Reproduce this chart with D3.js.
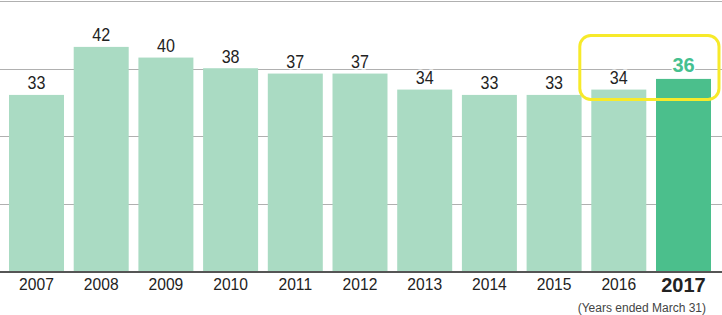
<!DOCTYPE html>
<html><head><meta charset="utf-8">
<script src="https://cdn.jsdelivr.net/npm/d3@7"></script>
<style>
html,body{margin:0;padding:0;background:#fff;}
svg{display:block;}
text{font-family:"Liberation Sans",Arial,Helvetica,sans-serif;}
</style></head>
<body><svg id="c" width="722" height="315"></svg>
<script>
const years = ["2007","2008","2009","2010","2011","2012","2013","2014","2015","2016","2017"];
const values = [33,42,40,38,37,37,34,33,33,34,36];
const highlightYear = "2017";
const gridFractions = [0.25,0.5,0.75,1];
const note = "(Years ended March 31)";

const W = 722, H = 315;
const svg = d3.select("#c");
const yMax = 50.6;
const x = d3.scaleBand().domain(years).range([4.15, 715.85]).paddingInner(0.15).paddingOuter(0.075);
const y = d3.scaleLinear().domain([0, yMax]).range([271, 1]);
const sx = 0.92; // condensed look

// gridlines
svg.append("g").selectAll("line").data(gridFractions).join("line")
  .attr("x1", 0).attr("x2", W)
  .attr("y1", d => Math.round(y(d*yMax))+0.5).attr("y2", d => Math.round(y(d*yMax))+0.5)
  .attr("stroke", "#b0b0b0").attr("stroke-width", 1);

// bars
svg.append("g").selectAll("rect").data(years).join("rect")
  .attr("x", d => x(d)).attr("width", x.bandwidth())
  .attr("y", (d,i) => y(values[i])).attr("height", (d,i) => y(0) - y(values[i]))
  .attr("fill", d => d === highlightYear ? "#4bbf8c" : "#aadbc3");

// baseline
svg.append("line").attr("x1", 0).attr("x2", W).attr("y1", 272).attr("y2", 272)
  .attr("stroke", "#555").attr("stroke-width", 2);

// value labels
svg.append("g").selectAll("text").data(years).join("text")
  .attr("transform", (d,i) => {
    const hl = d === highlightYear;
    return `translate(${x(d) + x.bandwidth()/2},${y(values[i]) - (hl ? 7 : 5.5)}) scale(${hl ? 1 : sx},1)`;
  })
  .attr("text-anchor", "middle")
  .attr("font-size", d => d === highlightYear ? 20 : 17.5)
  .attr("font-weight", d => d === highlightYear ? "bold" : "normal")
  .attr("fill", d => d === highlightYear ? "#45c08f" : "#222")
  .attr("stroke", "#fff").attr("stroke-width", 3).attr("paint-order", "stroke")
  .text((d,i) => values[i]);

// x axis labels
svg.append("g").selectAll("text").data(years).join("text")
  .attr("transform", d => {
    const hl = d === highlightYear;
    return `translate(${x(d) + x.bandwidth()/2},${hl ? 291.7 : 289.5}) scale(${hl ? 1 : sx},1)`;
  })
  .attr("text-anchor", "middle")
  .attr("font-size", d => d === highlightYear ? 20 : 17)
  .attr("font-weight", d => d === highlightYear ? "bold" : "normal")
  .attr("fill", "#222")
  .text(d => d);

svg.append("text").attr("x", 706).attr("y", 311.5).attr("text-anchor", "end")
  .attr("font-size", 12).attr("fill", "#444").text(note);

// highlight box
const hx0 = x("2016") - 11.5, hx1 = x("2017") + x.bandwidth() + 8;
svg.append("rect").attr("x", hx0).attr("y", 35.5).attr("width", hx1 - hx0).attr("height", 64)
  .attr("rx", 11).attr("ry", 11).attr("fill", "none")
  .attr("stroke", "#f7ea2a").attr("stroke-width", 3);
</script></body></html>
